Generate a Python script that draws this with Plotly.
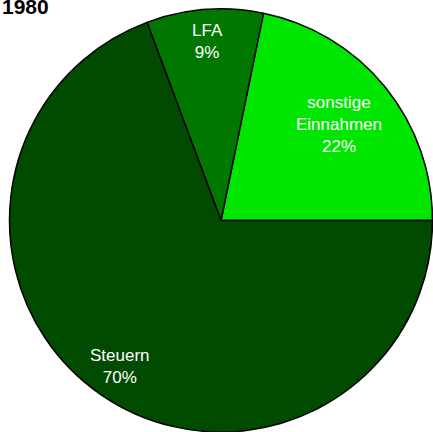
import math
import plotly.graph_objects as go

# --- Data ---
title_text = "1980"
labels = ["sonstige<br>Einnahmen", "LFA", "Steuern"]
shares = [22, 9, 70]  # percent shares as printed in the chart
colors = ["#00e600", "#007800", "#004b00"]

# label distance from centre, as a fraction of the radius (style only)
label_radius = [0.72, 0.85, 0.84]

W, H = 433, 432
M_L, M_T = 9, 9
FONT = "Arial, Liberation Sans, sans-serif"


def build_figure():
    total = sum(shares)
    # plotly puts the first slice's counterclockwise edge on the rotation line,
    # so shift by the first slice to make it start at 3 o'clock
    first_deg = 360 * shares[0] / total
    fig = go.Figure(go.Pie(
        labels=labels,
        values=shares,
        sort=False,
        direction="counterclockwise",
        rotation=90 - first_deg,
        marker=dict(colors=colors, line=dict(color="black", width=1.5)),
        textinfo="none",
        hoverinfo="label+percent",
        showlegend=False,
    ))

    fig.update_layout(
        width=W,
        height=H,
        margin=dict(l=M_L, r=0, t=M_T, b=0),
        paper_bgcolor="white",
        plot_bgcolor="white",
    )

    plot_w, plot_h = W - M_L, H - M_T
    radius = min(plot_w, plot_h) / 2

    # slice labels at each slice's mid angle (start at 3 o'clock, counterclockwise)
    start = 0.0
    for lab, val, frac in zip(labels, shares, label_radius):
        span = 360 * val / total
        mid = math.radians(start + span / 2)
        start += span
        dx = frac * radius * math.cos(mid) / plot_w
        dy = frac * radius * math.sin(mid) / plot_h
        fig.add_annotation(
            text=f"{lab}<br>{val}%",
            xref="paper", yref="paper",
            x=0.5 + dx, y=0.5 + dy,
            xanchor="center", yanchor="middle",
            showarrow=False,
            font=dict(family=FONT, size=17, color="white"),
        )

    fig.add_annotation(
        text="<b>" + title_text + "</b>",
        xref="paper", yref="paper",
        x=-M_L / plot_w, y=1 + (M_T - 6) / plot_h,
        xanchor="left", yanchor="middle",
        showarrow=False,
        font=dict(family=FONT, size=21, color="black"),
    )
    return fig


if __name__ == "__main__":
    fig = build_figure()
    # drop the browser's default body margin so the figure sits at the window corner
    fig.write_html("out.html", config={"displayModeBar": False},
                   post_script="document.body.style.margin='0';")
